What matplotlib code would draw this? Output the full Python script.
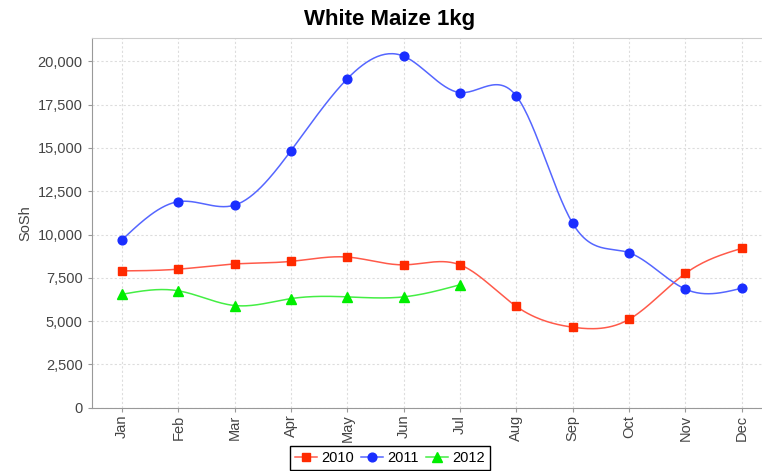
import numpy as np
import matplotlib.pyplot as plt
from matplotlib.ticker import FuncFormatter

months = ["Jan", "Feb", "Mar", "Apr", "May", "Jun", "Jul", "Aug", "Sep", "Oct", "Nov", "Dec"]
prices_2010 = [7900, 8000, 8300, 8450, 8700, 8250, 8250, 5850, 4650, 5100, 7750, 9200]
prices_2011 = [9700, 11900, 11700, 14850, 19000, 20300, 18200, 18000, 10650, 8950, 6850, 6900]
prices_2012 = [6550, 6750, 5900, 6300, 6400, 6400, 7100]

plt.rcParams['font.family'] = ['Liberation Sans', 'DejaVu Sans']


def natural_spline(y, steps=30):
    # natural cubic spline through equally spaced points (x = 0..n-1)
    y = np.asarray(y, dtype=float)
    n = len(y)
    A = np.zeros((n, n))
    b = np.zeros(n)
    A[0, 0] = 1
    A[-1, -1] = 1
    for i in range(1, n - 1):
        A[i, i - 1] = 1
        A[i, i] = 4
        A[i, i + 1] = 1
        b[i] = 6 * (y[i + 1] - 2 * y[i] + y[i - 1])
    m = np.linalg.solve(A, b)
    xs, ys = [], []
    for i in range(n - 1):
        t = np.linspace(0, 1, steps, endpoint=(i == n - 2))
        seg = ((1 - t) * y[i] + t * y[i + 1]
               + ((1 - t) ** 3 - (1 - t)) * m[i] / 6
               + (t ** 3 - t) * m[i + 1] / 6)
        xs.append(i + t)
        ys.append(seg)
    return np.concatenate(xs), np.concatenate(ys)


fig = plt.figure(figsize=(7.62, 4.71), dpi=100)
ax = fig.add_axes([91.7 / 762, 63.3 / 471, (772 - 91.7) / 762, (407.7 - 38) / 471])

series = [
    ("2010", prices_2010, "#ff2a00", "#ff5a4a", "s", 5.8),
    ("2011", prices_2011, "#1a2eff", "#5566ff", "o", 6.3),
    ("2012", prices_2012, "#00ee00", "#44ee44", "^", 6.5),
]

handles = []
for name, vals, mcol, lcol, mk, ms in series:
    sx, sy = natural_spline(vals)
    ax.plot(sx, sy, color=lcol, lw=1.1, zorder=3)
    ax.plot(np.arange(len(vals)), vals, ls="none", marker=mk, ms=ms,
            color=mcol, zorder=4)
    h, = ax.plot([], [], color=lcol, lw=1.1, marker=mk, ms=ms,
                 markerfacecolor=mcol, markeredgecolor=mcol, label=name)
    handles.append(h)

ax.set_xlim(-0.54, 11.54)
ax.set_ylim(0, 21350)
ax.set_xticks(range(len(months)))
ax.set_xticklabels(months, rotation=90, fontsize=10.5, color="#444444")
ax.set_yticks(np.arange(0, 20001, 2500))
ax.yaxis.set_major_formatter(FuncFormatter(lambda v, p: f"{int(v):,}"))
ax.tick_params(axis="y", labelsize=10.5, labelcolor="#444444", length=3, color="#999999")
ax.tick_params(axis="x", length=3, color="#999999", pad=2)

ax.grid(True, color="#dddddd", linestyle=(0, (2, 2)), linewidth=0.8)
ax.set_axisbelow(True)
for side in ["left", "bottom"]:
    ax.spines[side].set_color("#999999")
ax.spines["top"].set_color("#cccccc")
ax.spines["right"].set_visible(False)

ax.set_ylabel("SoSh", fontsize=10.5, color="#444444", labelpad=4)

fig.text(390 / 762, 1 - 20 / 471, "White Maize 1kg", ha="center", va="center",
         fontsize=16, fontweight="bold")

leg = fig.legend(handles=handles, loc="upper center", ncol=3,
                 bbox_to_anchor=(390 / 762, 1 - 446 / 471),
                 frameon=True, fancybox=False, framealpha=1, edgecolor="black",
                 fontsize=10.5, handlelength=1.5, handletextpad=0.3,
                 columnspacing=0.5, borderpad=0.35, borderaxespad=0)
leg.get_frame().set_linewidth(1.0)

fig.savefig("out.png", dpi=100)
